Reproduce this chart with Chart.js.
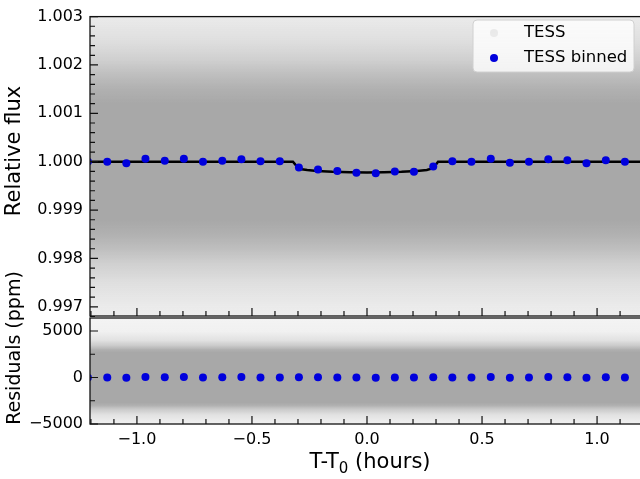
<!DOCTYPE html>
<html>
<head>
<meta charset="utf-8">
<script src="https://cdn.jsdelivr.net/npm/chart.js@4.4.1/dist/chart.umd.min.js"></script>
<style>
  html, body { margin: 0; padding: 0; background: #fff; overflow: hidden; }
  #wrap { position: relative; width: 640px; height: 479px; overflow: hidden; }
  #wrap canvas { position: absolute; left: 0; top: 0; }
</style>
</head>
<body>
<div id="wrap">
  <canvas id="fluxChart" width="650" height="479"></canvas>
  <canvas id="residChart" width="650" height="479"></canvas>
</div>
<script>
// binned TESS points (5 min bins), time in hours from mid-transit
const binTime = [-1.213, -1.129, -1.046, -0.963, -0.879, -0.796, -0.713, -0.629, -0.546, -0.463,
                 -0.379, -0.296, -0.213, -0.129, -0.046, 0.038, 0.121, 0.204, 0.288, 0.371,
                 0.454, 0.538, 0.621, 0.704, 0.788, 0.871, 0.954, 1.038, 1.121];
const binFlux = [1.00000, 1.00000, 0.99997, 1.00006, 1.00002, 1.00006, 1.00000, 1.00002, 1.00005, 1.00001,
                 1.00001, 0.99988, 0.99984, 0.99981, 0.99977, 0.99976, 0.99980, 0.99979, 0.99990, 1.00001,
                 1.00000, 1.00006, 0.99998, 1.00000, 1.00005, 1.00003, 0.99997, 1.00003, 1.00000];
const binResid = [0, 0, -30, 60, 20, 60, 0, 20, 50, 10,
                  10, 20, 30, 10, -10, -15, 10, 0, 30, 10,
                  0, 60, -20, 0, 50, 30, -30, 30, 0];

// transit model
const modelTime = [-1.25, -0.322, -0.306, -0.291, -0.26, -0.217, -0.15, -0.074, 0.0,
                   0.074, 0.15, 0.217, 0.26, 0.283, 0.296, 0.309, 1.25];
const modelFlux = [1.0, 1.0, 0.99991, 0.99985, 0.99983, 0.99981, 0.99979, 0.99978, 0.999775,
                   0.99978, 0.99979, 0.99981, 0.99983, 0.99986, 0.99992, 1.0, 1.0];

// unbinned TESS cloud, read as density envelopes (outer -> inner)
const cloudTime = [-1.25, 1.25];
const fluxCloudHigh = [1.0034, 1.0030, 1.0025, 1.0021, 1.0018, 1.0015, 1.0012];
const fluxCloudLow = [0.9966, 0.9970, 0.9975, 0.9979, 0.9982, 0.9985, 0.9988];
const residCloudHigh = [7000, 5000, 4000, 3400, 3000, 2700];
const residCloudLow = [-7000, -5000, -4000, -3400, -3000, -2700];

const timeTicks = [-1.0, -0.5, 0.0, 0.5, 1.0];
const fluxTicks = [0.997, 0.998, 0.999, 1.000, 1.001, 1.002, 1.003];
const residTicks = [-5000, 0, 5000];

const FONT = '"DejaVu Sans", "Liberation Sans", sans-serif';
const GREY = '168,168,168';
const BLUE = '#0000dc';
const fluxShade = [0.18, 0.23, 0.37, 0.55, 0.74, 0.9, 1];
const residShade = [0.12, 0.16, 0.34, 0.62, 0.9, 1];
const xMin = -1.204, xMax = 1.204;

function pts(xs, ys) {
    return xs.map((x, i) => ({x: x, y: ys[i]}));
}

// vertical gradient whose stops sit on the envelope levels
function cloudGradient(chart, highs, lows, shade) {
    const {ctx, chartArea, scales} = chart;
    if (!chartArea) return 'rgba(' + GREY + ',0.5)';
    const y = scales.y;
    const top = y.getPixelForValue(highs[0]);
    const bot = y.getPixelForValue(lows[0]);
    const g = ctx.createLinearGradient(0, top, 0, bot);
    const pos = v => Math.min(1, Math.max(0, (y.getPixelForValue(v) - top) / (bot - top)));
    highs.forEach((h, i) => g.addColorStop(pos(h), 'rgba(' + GREY + ',' + shade[i] + ')'));
    lows.forEach((l, i) => g.addColorStop(pos(l), 'rgba(' + GREY + ',' + shade[i] + ')'));
    return g;
}

function cloudSets(highs, lows, shade) {
    return [
        {data: pts(cloudTime, [highs[0], highs[0]]), fill: '+1',
         backgroundColor: c => cloudGradient(c.chart, highs, lows, shade),
         borderColor: 'transparent', borderWidth: 0, pointRadius: 0, order: 10},
        {data: pts(cloudTime, [lows[0], lows[0]]), fill: false,
         borderColor: 'transparent', borderWidth: 0, pointRadius: 0, order: 10}
    ];
}

function minus(s) {
    return String(s).replace('-', '\u2212');
}

// box round the axes and matplotlib-like inward ticks
function frameAndTicks(chart, yMinor, isMajor) {
    const {ctx, chartArea: a, scales} = chart;
    ctx.save();
    ctx.strokeStyle = '#111';
    ctx.lineWidth = 1.2;
    ctx.beginPath();
    for (let k = -12; k <= 12; k++) {
        const px = scales.x.getPixelForValue(k / 10);
        if (px < a.left || px > a.right) continue;
        const len = k % 5 === 0 ? 8 : 5;
        ctx.moveTo(px, a.bottom);
        ctx.lineTo(px, a.bottom - len);
    }
    yMinor.forEach(v => {
        const py = scales.y.getPixelForValue(v);
        if (py < a.top - 0.5 || py > a.bottom + 0.5) return;
        const len = isMajor(v) ? 8 : 5;
        ctx.moveTo(a.left, py);
        ctx.lineTo(a.left + len, py);
    });
    ctx.stroke();
    ctx.lineWidth = 1.3;
    ctx.strokeRect(a.left, a.top, a.right - a.left, a.bottom - a.top);
    ctx.restore();
}

function rotatedText(ctx, text, x, y, size) {
    ctx.save();
    ctx.translate(x, y);
    ctx.rotate(-Math.PI / 2);
    ctx.font = size + 'px ' + FONT;
    ctx.fillStyle = '#000';
    ctx.textAlign = 'center';
    ctx.textBaseline = 'middle';
    ctx.fillText(text, 0, 0);
    ctx.restore();
}

const fluxMinor = [];
for (let k = 9968; k <= 10030; k += 2) fluxMinor.push(k / 10000);
const residMinor = [];
for (let k = -5000; k <= 7500; k += 2500) residMinor.push(k);

const topDecor = {
    id: 'topDecor',
    afterDraw(chart) {
        const ctx = chart.ctx;
        frameAndTicks(chart, fluxMinor, v => Math.round(v * 10000) % 10 === 0);
        rotatedText(ctx, 'Relative flux', 15, 151, 21);

        // legend
        ctx.save();
        const lx = 473, ly = 20, lw = 161, lh = 52, r = 4;
        ctx.beginPath();
        ctx.moveTo(lx + r, ly);
        ctx.arcTo(lx + lw, ly, lx + lw, ly + lh, r);
        ctx.arcTo(lx + lw, ly + lh, lx, ly + lh, r);
        ctx.arcTo(lx, ly + lh, lx, ly, r);
        ctx.arcTo(lx, ly, lx + lw, ly, r);
        ctx.closePath();
        ctx.fillStyle = 'rgba(255,255,255,0.8)';
        ctx.fill();
        ctx.strokeStyle = '#d0d0d0';
        ctx.lineWidth = 1;
        ctx.stroke();
        ctx.fillStyle = 'rgba(' + GREY + ',0.2)';
        ctx.beginPath(); ctx.arc(494, 33, 4, 0, Math.PI * 2); ctx.fill();
        ctx.fillStyle = BLUE;
        ctx.beginPath(); ctx.arc(494, 58, 4, 0, Math.PI * 2); ctx.fill();
        ctx.fillStyle = '#000';
        ctx.font = '16.5px ' + FONT;
        ctx.textBaseline = 'middle';
        ctx.fillText('TESS', 524, 33);
        ctx.fillText('TESS binned', 524, 58);
        ctx.restore();
    }
};

const bottomDecor = {
    id: 'bottomDecor',
    afterDraw(chart) {
        const ctx = chart.ctx;
        frameAndTicks(chart, residMinor, v => v % 5000 === 0);
        rotatedText(ctx, 'Residuals (ppm)', 15, 348, 19);

        // x title with subscript
        ctx.save();
        ctx.fillStyle = '#000';
        ctx.textBaseline = 'alphabetic';
        const big = '21px ' + FONT, small = '15px ' + FONT;
        ctx.font = big;
        const w1 = ctx.measureText('T-T').width;
        const w3 = ctx.measureText(' (hours)').width;
        ctx.font = small;
        const w2 = ctx.measureText('0').width;
        let x = 370 - (w1 + w2 + w3) / 2;
        const base = 468;
        ctx.font = big;
        ctx.fillText('T-T', x, base);
        x += w1;
        ctx.font = small;
        ctx.fillText('0', x, base + 5);
        x += w2;
        ctx.font = big;
        ctx.fillText(' (hours)', x, base);
        ctx.restore();
    }
};

const tickFont = {family: FONT, size: 16};

new Chart('fluxChart', {
    type: 'line',
    data: {
        datasets: [
            {data: pts(binTime, binFlux), showLine: false, pointRadius: 4, pointBackgroundColor: BLUE,
             pointBorderWidth: 0, borderColor: BLUE, order: 0},
            {data: pts(modelTime, modelFlux), borderColor: '#000', borderWidth: 2.5, pointRadius: 0,
             tension: 0, fill: false, order: 1},
            ...cloudSets(fluxCloudHigh, fluxCloudLow, fluxShade)
        ]
    },
    options: {
        responsive: false,
        animation: false,
        layout: {padding: {left: 0, top: 12, right: 6, bottom: 163}},
        scales: {
            x: {
                type: 'linear', min: xMin, max: xMax,
                grid: {display: false, drawTicks: false}, border: {display: false},
                ticks: {display: false},
                afterFit: s => { s.height = 0; }
            },
            y: {
                min: 0.99681, max: 1.003,
                grid: {display: false, drawTicks: false}, border: {display: false},
                afterBuildTicks: s => { s.ticks = fluxTicks.map(v => ({value: v})); },
                afterFit: s => { s.width = 90; },
                ticks: {font: tickFont, color: '#000', padding: 7, callback: v => v.toFixed(3)}
            }
        },
        plugins: {legend: {display: false}, tooltip: {enabled: false}}
    },
    plugins: [topDecor]
});

new Chart('residChart', {
    type: 'line',
    data: {
        datasets: [
            {data: pts(binTime, binResid), showLine: false, pointRadius: 4, pointBackgroundColor: BLUE,
             pointBorderWidth: 0, borderColor: BLUE, order: 0},
            ...cloudSets(residCloudHigh, residCloudLow, residShade)
        ]
    },
    options: {
        responsive: false,
        animation: false,
        layout: {padding: {left: 0, top: 318, right: 6, bottom: 0}},
        scales: {
            x: {
                type: 'linear', min: xMin, max: xMax,
                grid: {display: false, drawTicks: false}, border: {display: false},
                afterBuildTicks: s => { s.ticks = timeTicks.map(v => ({value: v})); },
                afterFit: s => { s.height = 55; },
                ticks: {font: tickFont, color: '#000', padding: 6, maxRotation: 0, autoSkip: false,
                        callback: v => minus(v.toFixed(1))}
            },
            y: {
                min: -5000, max: 6400,
                grid: {display: false, drawTicks: false}, border: {display: false},
                afterBuildTicks: s => { s.ticks = residTicks.map(v => ({value: v})); },
                afterFit: s => { s.width = 90; },
                ticks: {font: tickFont, color: '#000', padding: 7, callback: v => minus(v)}
            }
        },
        plugins: {legend: {display: false}, tooltip: {enabled: false}}
    },
    plugins: [bottomDecor]
});
</script>
</body>
</html>
